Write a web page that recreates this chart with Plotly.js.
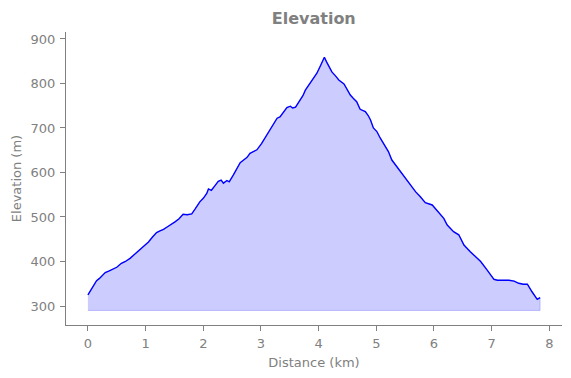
<!DOCTYPE html>
<html>
<head>
<meta charset="utf-8">
<script src="https://cdn.plot.ly/plotly-3.0.1.min.js"></script>
<style>html,body{margin:0;padding:0;background:#fff;}#chart{width:571px;height:378px;}</style>
</head>
<body>
<div id="chart"></div>
<script>
// Distance along the track (km)
const distanceKm = [
  0.00, 0.05, 0.10, 0.15, 0.20, 0.25, 0.30, 0.37, 0.44, 0.50,
  0.58, 0.65, 0.73, 0.80, 0.90, 0.98, 1.05, 1.12, 1.19, 1.25,
  1.31, 1.38, 1.45, 1.51, 1.58, 1.65, 1.72, 1.80, 1.86, 1.94,
  2.00, 2.06, 2.09, 2.14, 2.20, 2.26, 2.31, 2.35, 2.41, 2.45,
  2.52, 2.58, 2.64, 2.70, 2.76, 2.81, 2.87, 2.93, 3.01, 3.10,
  3.16, 3.22, 3.28, 3.33, 3.40, 3.45, 3.51, 3.55, 3.60, 3.68,
  3.73, 3.77, 3.85, 3.92, 3.97, 4.04, 4.10, 4.14, 4.17, 4.23,
  4.30, 4.35, 4.44, 4.50, 4.55, 4.60, 4.66, 4.72, 4.81, 4.86,
  4.90, 4.95, 5.01, 5.07, 5.16, 5.21, 5.27, 5.36, 5.47, 5.53,
  5.59, 5.68, 5.76, 5.85, 5.97, 6.02, 6.10, 6.17, 6.23, 6.34,
  6.43, 6.52, 6.63, 6.72, 6.81, 6.92, 7.04, 7.10, 7.18, 7.30,
  7.39, 7.47, 7.55, 7.62, 7.70, 7.79, 7.84
];
// Elevation (m)
const elevationM = [
  325, 335, 347, 357, 362, 368, 375, 379, 383, 387,
  396, 400, 407, 415, 426, 434, 444, 455, 465, 469,
  472, 478, 483, 489, 496, 506, 505, 507, 518, 534,
  542, 553, 563, 560, 570, 580, 583, 576, 582, 579,
  594, 608, 622, 628, 634, 643, 647, 651, 665, 684,
  695, 710, 722, 725, 737, 746, 749, 745, 747, 763,
  773, 785, 800, 812, 823, 842, 859, 848, 840, 826,
  816, 808, 799, 785, 774, 767, 759, 742, 737, 728,
  718, 700, 692, 677, 658, 647, 628, 612, 594, 584,
  572, 557, 546, 532, 527, 520, 507, 497, 482, 467,
  460, 437, 422, 412, 400, 381, 360, 358, 358, 358,
  356, 351, 349, 349, 332, 315, 319
];
const baseElevation = 290;
const xTicks = [0, 1, 2, 3, 4, 5, 6, 7, 8];
const yTicks = [300, 400, 500, 600, 700, 800, 900];

// polygon for the filled area (profile + baseline back)
const polyX = distanceKm.concat(distanceKm.slice().reverse());
const polyY = elevationM.concat(distanceKm.map(() => baseElevation));

const gray = '#808080';
const traces = [
  {
    x: polyX, y: polyY, type: 'scatter', mode: 'lines',
    fill: 'toself', fillcolor: 'rgba(0,0,255,0.2)',
    line: {color: 'rgba(0,0,255,0.2)', width: 1},
    hoverinfo: 'skip', showlegend: false
  },
  {
    x: distanceKm, y: elevationM, type: 'scatter', mode: 'lines',
    line: {color: '#0000ff', width: 1.4},
    showlegend: false
  }
];

const axisCommon = {
  showgrid: false, zeroline: false, showline: true,
  linecolor: gray, linewidth: 1, mirror: false,
  ticks: 'outside', ticklen: 5, tickwidth: 1, tickcolor: gray,
  tickfont: {family: 'DejaVu Sans', size: 13, color: gray},
  automargin: false
};

const layout = {
  width: 571, height: 378,
  margin: {l: 66, r: 9, t: 32, b: 53},
  paper_bgcolor: '#ffffff', plot_bgcolor: '#ffffff',
  title: {
    text: '<b>Elevation</b>',
    font: {family: 'DejaVu Sans', size: 16, color: gray},
    x: 0.5495, xanchor: 'center', y: 0.952, yanchor: 'middle'
  },
  xaxis: Object.assign({}, axisCommon, {
    range: [-0.38, 8.22], tickvals: xTicks, ticklabelstandoff: 1,
    title: {text: 'Distance (km)', font: {family: 'DejaVu Sans', size: 13, color: gray}, standoff: 8}
  }),
  yaxis: Object.assign({}, axisCommon, {
    range: [257.3, 915.7], tickvals: yTicks, ticklabelstandoff: 2,
    title: {text: 'Elevation (m)', font: {family: 'DejaVu Sans', size: 13, color: gray}, standoff: 6}
  })
};

Plotly.newPlot('chart', traces, layout, {displayModeBar: false, staticPlot: true});
</script>
</body>
</html>
